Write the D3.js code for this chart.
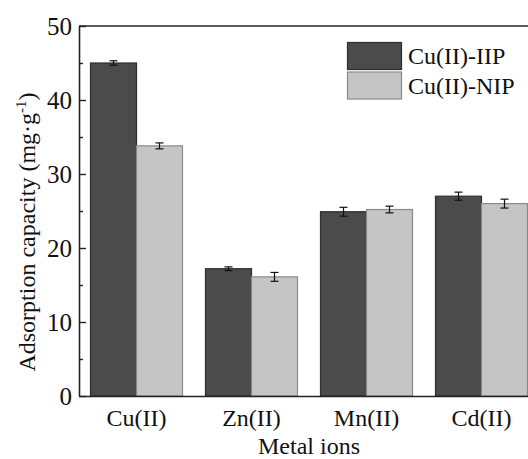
<!DOCTYPE html>
<html><head><meta charset="utf-8">
<script src="https://cdn.jsdelivr.net/npm/d3@7"></script>
<style>body{margin:0;background:#fff}svg{display:block}text{font-family:"Liberation Serif","Times New Roman",serif;fill:#111}</style>
</head><body>
<script>
const categories = ["Cu(II)", "Zn(II)", "Mn(II)", "Cd(II)"];
const seriesNames = ["Cu(II)-IIP", "Cu(II)-NIP"];
const iipValues = [45.0, 17.2, 24.9, 27.0];
const iipErrors = [0.3, 0.25, 0.6, 0.55];
const nipValues = [33.8, 16.1, 25.2, 26.0];
const nipErrors = [0.4, 0.6, 0.45, 0.6];
const yTicks = [0, 10, 20, 30, 40, 50];
const yMinorTicks = [5, 15, 25, 35, 45];
const colors = ["#4b4b4b", "#c5c5c5"];
const strokes = ["#2e2e2e", "#8a8a8a"];

const W = 528, H = 459;
const m = {left: 79, top: 26, right: 539, bottom: 396};
const svg = d3.select("body").append("svg").attr("width", W).attr("height", H);

const x = d3.scaleBand().domain(categories).range([m.left, m.right]).paddingInner(0.2).paddingOuter(0.1);
const xs = d3.scaleBand().domain(seriesNames).range([0, x.bandwidth()]);
const y = d3.scaleLinear().domain([0, 50]).range([m.bottom, m.top]);

const data = categories.map((c, i) => ({c, vals: [
  {s: seriesNames[0], v: iipValues[i], e: iipErrors[i], k: 0},
  {s: seriesNames[1], v: nipValues[i], e: nipErrors[i], k: 1}
]}));

const g = svg.append("g");
const groups = g.selectAll("g.grp").data(data).join("g").attr("transform", d => `translate(${x(d.c)},0)`);
groups.selectAll("rect").data(d => d.vals).join("rect")
  .attr("x", d => xs(d.s)).attr("width", xs.bandwidth())
  .attr("y", d => y(d.v)).attr("height", d => y(0) - y(d.v))
  .attr("fill", d => colors[d.k]).attr("stroke", d => strokes[d.k]).attr("stroke-width", 1.2);

const eb = groups.selectAll("g.eb").data(d => d.vals).join("g").attr("class", "eb")
  .attr("transform", d => `translate(${xs(d.s) + xs.bandwidth() / 2},0)`);
eb.append("line").attr("y1", d => y(d.v + d.e)).attr("y2", d => y(d.v - d.e)).attr("stroke", "#111").attr("stroke-width", 1.2);
eb.append("line").attr("x1", -4).attr("x2", 4).attr("y1", d => y(d.v + d.e)).attr("y2", d => y(d.v + d.e)).attr("stroke", "#111").attr("stroke-width", 1.2);
eb.append("line").attr("x1", -4).attr("x2", 4).attr("y1", d => y(d.v - d.e)).attr("y2", d => y(d.v - d.e)).attr("stroke", "#111").attr("stroke-width", 1.2);

// frame
svg.append("line").attr("x1", m.left).attr("x2", m.right).attr("y1", m.top).attr("y2", m.top).attr("stroke", "#222").attr("stroke-width", 1.6);
svg.append("line").attr("x1", m.right).attr("x2", m.right).attr("y1", m.top).attr("y2", m.bottom).attr("stroke", "#222").attr("stroke-width", 1.6);

// y axis
const yAxis = d3.axisLeft(y).tickValues(yTicks).tickSizeInner(-7).tickSizeOuter(0).tickPadding(7);
const ya = svg.append("g").attr("transform", `translate(${m.left},0)`).call(yAxis);
ya.select(".domain").attr("stroke", "#222").attr("stroke-width", 1.6);
ya.selectAll(".tick line").attr("stroke", "#222").attr("stroke-width", 1.4);
ya.selectAll(".tick text").attr("font-size", 25).attr("font-family", "Liberation Serif").attr("fill", "#111");
const yMinor = d3.axisLeft(y).tickValues(yMinorTicks).tickSizeInner(-4).tickSizeOuter(0).tickFormat("");
const ym = svg.append("g").attr("transform", `translate(${m.left},0)`).call(yMinor);
ym.select(".domain").remove();
ym.selectAll(".tick line").attr("stroke", "#222").attr("stroke-width", 1.4);

// x axis
const xAxis = d3.axisBottom(x).tickSize(0).tickPadding(13);
const xa = svg.append("g").attr("transform", `translate(0,${m.bottom})`).call(xAxis);
xa.select(".domain").attr("stroke", "#222").attr("stroke-width", 1.6);
xa.selectAll(".tick text").attr("font-size", 24).attr("font-family", "Liberation Serif").attr("fill", "#111");

// axis titles
svg.append("text").attr("x", 309).attr("y", 454).attr("text-anchor", "middle")
  .attr("font-size", 24).text("Metal ions");
const yt = svg.append("text").attr("transform", `translate(35,${232}) rotate(-90)`).attr("text-anchor", "middle").attr("font-size", 24);
yt.append("tspan").text("Adsorption capacity (mg·g");
yt.append("tspan").attr("font-size", 15).attr("dy", -9).text("-1");
yt.append("tspan").attr("dy", 9).text(")");

// legend
const lg = svg.append("g");
seriesNames.forEach((s, i) => {
  lg.append("rect").attr("x", 347.5).attr("y", 42.5 + i * 29.5).attr("width", 54).attr("height", 27)
    .attr("fill", colors[i]).attr("stroke", strokes[i]).attr("stroke-width", 1.2);
  lg.append("text").attr("x", 408).attr("y", 56 + i * 29.5).attr("dy", "0.35em").attr("font-size", 24).text(s);
});
</script>
</body></html>
